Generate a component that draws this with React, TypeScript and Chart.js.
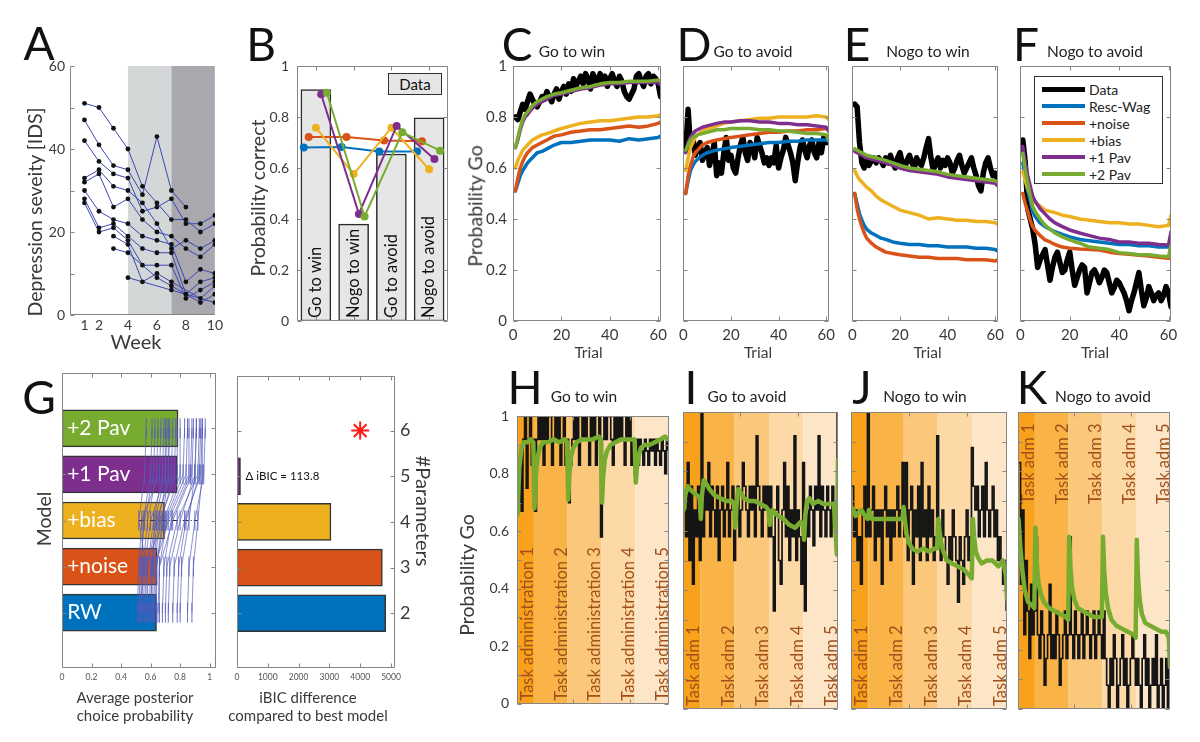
import React, { useEffect, useRef } from 'react';
import { Chart, registerables } from 'chart.js';

Chart.register(...registerables);

// ---------------- data ----------------
// Panel A: depression severity per subject, weeks 1..10
const A_WEEKS = [1, 2, 3, 4, 5, 6, 7, 8, 9, 10];
const A_SUBJECTS: (number | null)[][] = [
  [51, 50, 45, 40, 31, 27, 23, 23, 20, 22],
  [47, 41, 36, 35, 29, 43, 30, 26, null, null],
  [42, 37, 34, 33, 25, 26, 28, 22, 22, 24],
  [33, 35, 31, 30, 27, 22, 16, 18, 16, 18],
  [32, 34, 26, 28, 23, 20, 19, 16, 14, 17],
  [30, 25, 23, 22, 19, 18, 17, 8, 11, 10],
  [28, 21, 22, 19, 16, 15, 15, 5, 8, 9],
  [27, 20, 21, 18, 12, 12, 12, 4, 6, 8],
  [null, null, 19, 17, 8, 10, 8, null, 4, 7],
  [null, null, 16, 15, null, 9, 7, null, 3, 5],
  [null, null, null, 9, null, null, 6, null, null, 3],
];
const A_PHASES = [[4, 7], [7, 10]];

// Panel B: probability correct per condition
const B_COND = ['Go to win', 'Nogo to win', 'Go to avoid', 'Nogo to avoid'];
const B_DATA = [0.908, 0.38, 0.655, 0.797];
const B_RW = [0.68, 0.682, 0.665, 0.665];
const B_NOISE = [0.722, 0.722, 0.708, 0.705];
const B_BIAS = [0.758, 0.576, 0.758, 0.595];
const B_PAV1 = [0.889, 0.42, 0.765, 0.635];
const B_PAV2 = [0.895, 0.41, 0.74, 0.668];

// Panels C-F: probability Go over trials
const MX = [1, 2, 3, 4, 5, 6, 8, 10, 12, 14, 17, 20, 24, 28, 32, 36, 40, 44, 48, 52, 56, 60, 61];

const C_DATA = [0.80, 0.79, 0.82, 0.85, 0.83, 0.86, 0.89, 0.87, 0.85, 0.84,
  0.86, 0.88, 0.87, 0.90, 0.88, 0.86, 0.89, 0.91, 0.87, 0.90,
  0.92, 0.89, 0.93, 0.90, 0.95, 0.92, 0.94, 0.96, 0.93, 0.97,
  0.95, 0.91, 0.97, 0.95, 0.93, 0.97, 0.94, 0.96, 0.92, 0.95,
  0.97, 0.94, 0.92, 0.96, 0.94, 0.90, 0.88, 0.87, 0.89, 0.91,
  0.96, 0.97, 0.94, 0.92, 0.96, 0.97, 0.93, 0.96, 0.95, 0.93,
  0.88];
const C_RW = [0.51, 0.54, 0.57, 0.59, 0.605, 0.62, 0.64, 0.66, 0.665, 0.675, 0.69, 0.70, 0.70, 0.705, 0.71, 0.71, 0.71, 0.705, 0.715, 0.71, 0.715, 0.72, 0.725];
const C_NOISE = [0.51, 0.56, 0.60, 0.625, 0.645, 0.66, 0.68, 0.69, 0.70, 0.71, 0.725, 0.73, 0.74, 0.745, 0.75, 0.75, 0.755, 0.76, 0.765, 0.76, 0.765, 0.775, 0.78];
const C_BIAS = [0.60, 0.63, 0.65, 0.67, 0.68, 0.69, 0.71, 0.72, 0.73, 0.735, 0.745, 0.755, 0.765, 0.775, 0.78, 0.785, 0.785, 0.79, 0.795, 0.80, 0.80, 0.805, 0.81];
const C_PAV1 = [0.68, 0.71, 0.75, 0.78, 0.80, 0.81, 0.835, 0.85, 0.86, 0.87, 0.885, 0.89, 0.90, 0.91, 0.915, 0.925, 0.93, 0.93, 0.935, 0.935, 0.935, 0.935, 0.925];
const C_PAV2 = [0.68, 0.72, 0.76, 0.79, 0.81, 0.82, 0.845, 0.86, 0.87, 0.88, 0.89, 0.895, 0.905, 0.915, 0.92, 0.93, 0.935, 0.935, 0.94, 0.94, 0.94, 0.945, 0.94];

const D_DATA = [0.67, 0.83, 0.68, 0.72, 0.65, 0.68, 0.70, 0.63, 0.66, 0.68,
  0.61, 0.65, 0.70, 0.57, 0.62, 0.58, 0.66, 0.72, 0.63, 0.65,
  0.60, 0.58, 0.64, 0.69, 0.72, 0.66, 0.63, 0.70, 0.68, 0.64,
  0.72, 0.69, 0.66, 0.62, 0.64, 0.61, 0.64, 0.62, 0.69, 0.60,
  0.64, 0.67, 0.72, 0.69, 0.66, 0.62, 0.55, 0.62, 0.68, 0.71,
  0.67, 0.64, 0.69, 0.71, 0.66, 0.64, 0.70, 0.66, 0.72, 0.70,
  0.70];
const D_RW = [0.50, 0.55, 0.59, 0.61, 0.625, 0.635, 0.65, 0.66, 0.665, 0.67, 0.675, 0.68, 0.685, 0.69, 0.695, 0.70, 0.70, 0.705, 0.705, 0.71, 0.71, 0.71, 0.705];
const D_NOISE = [0.50, 0.57, 0.61, 0.64, 0.66, 0.67, 0.69, 0.70, 0.705, 0.71, 0.715, 0.72, 0.725, 0.73, 0.735, 0.74, 0.74, 0.745, 0.745, 0.75, 0.75, 0.755, 0.75];
const D_BIAS = [0.59, 0.64, 0.68, 0.70, 0.72, 0.73, 0.745, 0.755, 0.76, 0.765, 0.775, 0.78, 0.785, 0.79, 0.795, 0.795, 0.80, 0.80, 0.80, 0.80, 0.805, 0.80, 0.79];
const D_PAV1 = [0.66, 0.70, 0.72, 0.735, 0.745, 0.75, 0.76, 0.765, 0.77, 0.775, 0.78, 0.78, 0.785, 0.785, 0.78, 0.78, 0.775, 0.775, 0.77, 0.77, 0.765, 0.76, 0.745];
const D_PAV2 = [0.67, 0.69, 0.71, 0.72, 0.725, 0.73, 0.735, 0.74, 0.745, 0.75, 0.75, 0.755, 0.755, 0.755, 0.75, 0.75, 0.745, 0.745, 0.74, 0.735, 0.735, 0.73, 0.71];

const E_DATA = [0.85, 0.84, 0.70, 0.62, 0.60, 0.63, 0.61, 0.63, 0.64, 0.62,
  0.64, 0.63, 0.61, 0.64, 0.62, 0.65, 0.62, 0.60, 0.64, 0.66,
  0.62, 0.60, 0.63, 0.65, 0.62, 0.60, 0.64, 0.62, 0.61, 0.64,
  0.68, 0.715, 0.64, 0.59, 0.62, 0.64, 0.60, 0.63, 0.61, 0.64,
  0.62, 0.58, 0.60, 0.63, 0.65, 0.61, 0.58, 0.60, 0.62, 0.64,
  0.60, 0.57, 0.53, 0.51, 0.58, 0.62, 0.64, 0.60, 0.57, 0.58,
  0.555];
const E_RW = [0.50, 0.46, 0.42, 0.395, 0.375, 0.36, 0.345, 0.335, 0.325, 0.32, 0.31, 0.305, 0.30, 0.30, 0.295, 0.295, 0.29, 0.29, 0.29, 0.285, 0.285, 0.28, 0.275];
const E_NOISE = [0.50, 0.44, 0.40, 0.37, 0.345, 0.325, 0.305, 0.29, 0.28, 0.27, 0.265, 0.26, 0.255, 0.25, 0.25, 0.245, 0.245, 0.245, 0.24, 0.24, 0.24, 0.235, 0.24];
const E_BIAS = [0.59, 0.57, 0.555, 0.545, 0.535, 0.525, 0.51, 0.49, 0.475, 0.465, 0.45, 0.435, 0.425, 0.415, 0.40, 0.405, 0.40, 0.395, 0.395, 0.39, 0.39, 0.385, 0.38];
const E_PAV1 = [0.665, 0.66, 0.655, 0.65, 0.645, 0.64, 0.635, 0.63, 0.625, 0.62, 0.61, 0.60, 0.59, 0.585, 0.58, 0.575, 0.565, 0.56, 0.555, 0.55, 0.545, 0.54, 0.53];
const E_PAV2 = [0.675, 0.67, 0.665, 0.66, 0.655, 0.65, 0.645, 0.64, 0.635, 0.63, 0.62, 0.61, 0.60, 0.595, 0.59, 0.585, 0.575, 0.57, 0.565, 0.56, 0.555, 0.55, 0.545];

const F_DATA = [0.71, 0.62, 0.44, 0.40, 0.36, 0.30, 0.21, 0.24, 0.26, 0.28,
  0.22, 0.16, 0.21, 0.25, 0.27, 0.23, 0.19, 0.20, 0.24, 0.27,
  0.20, 0.14, 0.17, 0.20, 0.22, 0.21, 0.11, 0.15, 0.19, 0.20,
  0.18, 0.15, 0.17, 0.20, 0.19, 0.15, 0.11, 0.13, 0.16, 0.15,
  0.13, 0.11, 0.08, 0.04, 0.08, 0.11, 0.15, 0.19, 0.12, 0.06,
  0.09, 0.135, 0.11, 0.08, 0.10, 0.11, 0.08, 0.10, 0.135, 0.11,
  0.056];
const F_RW = [0.62, 0.56, 0.51, 0.47, 0.43, 0.41, 0.385, 0.37, 0.36, 0.35, 0.34, 0.33, 0.32, 0.315, 0.31, 0.305, 0.30, 0.30, 0.295, 0.295, 0.29, 0.29, 0.29];
const F_NOISE = [0.50, 0.46, 0.43, 0.395, 0.37, 0.355, 0.335, 0.318, 0.31, 0.30, 0.29, 0.285, 0.282, 0.28, 0.278, 0.27, 0.265, 0.262, 0.258, 0.255, 0.25, 0.246, 0.25];
const F_BIAS = [0.585, 0.55, 0.52, 0.495, 0.475, 0.465, 0.45, 0.435, 0.43, 0.425, 0.415, 0.41, 0.40, 0.395, 0.39, 0.385, 0.385, 0.38, 0.38, 0.375, 0.37, 0.375, 0.415];
const F_PAV1 = [0.684, 0.62, 0.57, 0.53, 0.49, 0.47, 0.44, 0.42, 0.40, 0.385, 0.37, 0.357, 0.345, 0.335, 0.325, 0.32, 0.31, 0.31, 0.305, 0.305, 0.30, 0.298, 0.35];
const F_PAV2 = [0.657, 0.59, 0.54, 0.49, 0.45, 0.43, 0.40, 0.376, 0.36, 0.345, 0.33, 0.318, 0.305, 0.29, 0.285, 0.28, 0.268, 0.265, 0.26, 0.26, 0.255, 0.252, 0.298];

const LEGEND_NAMES = ['Data', 'Resc-Wag', '+noise', '+bias', '+1 Pav', '+2 Pav'];

// Panel G: model comparison (order RW, +noise, +bias, +1 Pav, +2 Pav)
const G_MODELS = ['RW', '+noise', '+bias', '+1 Pav', '+2 Pav'];
const G_PARAMS = [2, 3, 4, 5, 6];
const G_AVG = [0.64, 0.645, 0.694, 0.78, 0.786];
const G_IBIC = [4830, 4720, 3050, 113.8, 0];
const G_BEST_MARK = 4000;
const G_RW = [0.52, 0.55, 0.58, 0.60, 0.53, 0.62, 0.66, 0.70, 0.56, 0.75, 0.80, 0.88, 0.51, 0.64,
  0.54, 0.57, 0.59, 0.61, 0.63, 0.65, 0.68, 0.72, 0.78, 0.85, 0.53, 0.60];
const G_NOISE = [0.53, 0.56, 0.58, 0.61, 0.55, 0.63, 0.66, 0.71, 0.57, 0.76, 0.81, 0.89, 0.52, 0.64,
  0.55, 0.58, 0.60, 0.62, 0.64, 0.66, 0.69, 0.73, 0.79, 0.86, 0.54, 0.61];
const G_BIAS = [0.56, 0.60, 0.64, 0.66, 0.70, 0.72, 0.75, 0.78, 0.52, 0.83, 0.86, 0.92, 0.54, 0.68,
  0.58, 0.62, 0.65, 0.67, 0.69, 0.71, 0.74, 0.80, 0.84, 0.90, 0.55, 0.63];
const G_PAV1 = [0.62, 0.70, 0.74, 0.78, 0.82, 0.86, 0.88, 0.92, 0.56, 0.94, 0.90, 0.95, 0.66, 0.72,
  0.64, 0.68, 0.72, 0.76, 0.80, 0.84, 0.87, 0.90, 0.93, 0.96, 0.60, 0.70];
const G_PAV2 = [0.63, 0.71, 0.75, 0.78, 0.83, 0.86, 0.89, 0.93, 0.57, 0.95, 0.91, 0.95, 0.67, 0.72,
  0.65, 0.69, 0.73, 0.77, 0.80, 0.85, 0.88, 0.91, 0.94, 0.97, 0.61, 0.70];

// Panels H-K: probability Go (percent) across 5 task administrations
const HK_ADM = [0, 30, 90, 150, 210, 270];
const HK_BIN = 3; // trials per plotted data sample
const HK_LONG = ['Task administration 1', 'Task administration 2', 'Task administration 3', 'Task administration 4', 'Task administration 5'];
const HK_SHORT = ['Task adm 1', 'Task adm 2', 'Task adm 3', 'Task adm 4', 'Task adm 5'];
const GX = [1, 4, 8, 12, 18, 24, 29, 31, 33, 36, 40, 46, 55, 65, 75, 85, 89, 91, 93, 96, 100, 106, 115, 125, 135, 145, 149,
  151, 153, 156, 160, 166, 175, 185, 195, 205, 209, 211, 213, 216, 220, 226, 235, 245, 255, 263, 268, 270];

const H_MODEL = [66, 82, 89, 91, 91, 92, 91, 68, 78, 85, 89, 91, 91, 92, 91, 92, 91, 71, 80, 86, 89, 91, 92, 92, 92, 93, 92,
  70, 79, 85, 88, 90, 91, 92, 92, 92, 92, 77, 82, 86, 89, 90, 90, 91, 92, 93, 92, 92];
const I_MODEL = [67, 72, 75, 74, 73, 72, 71, 64, 72, 77, 76, 74, 72, 71, 70, 70, 69, 61, 68, 74, 73, 71, 70, 70, 69, 68, 67,
  62, 65, 67, 66, 65, 64, 62, 61, 63, 62, 57, 65, 70, 71, 69, 70, 69, 69, 69, 52, 84];
const J_MODEL = [68, 67, 65, 66, 67, 65, 64, 67, 66, 64, 64, 64, 64, 64, 64, 64, 64, 68, 64, 59, 56, 54, 53, 54, 53, 54, 54,
  64, 60, 56, 53, 50, 49, 48, 47, 45, 44, 64, 58, 53, 51, 49, 50, 50, 48, 50, 45, 37];
const K_MODEL = [64, 55, 46, 40, 36, 35, 34, 61, 50, 43, 39, 36, 34, 33, 32, 31, 30, 58, 48, 41, 37, 34, 33, 32, 31, 31, 31,
  58, 47, 39, 34, 30, 28, 27, 26, 25, 24, 57, 45, 37, 32, 29, 28, 27, 26, 26, 24, 14];

const H_DATA = [70, 83, 67, 92, 100, 75, 92, 100, 83, 92,
  67, 92, 100, 92, 100, 83, 100, 92, 100, 100, 83, 92, 100, 92, 100, 83, 92, 100, 83, 92,
  70, 83, 92, 100, 92, 100, 83, 92, 100, 92, 100, 92, 83, 100, 92, 100, 83, 92, 100, 58,
  92, 100, 92, 100, 100, 92, 83, 100, 92, 100, 92, 100, 92, 83, 100, 92, 100, 83, 92, 80,
  92, 83, 92, 88, 83, 92, 88, 83, 92, 88, 92, 83, 92, 88, 83, 92, 88, 80, 92, 88];
const I_DATA = [67, 58, 83, 50, 75, 42, 67, 58, 75, 50,
  100, 58, 75, 67, 83, 58, 75, 67, 58, 75, 50, 67, 75, 58, 67, 83, 58, 67, 75, 50,
  67, 75, 58, 67, 83, 75, 67, 58, 75, 67, 75, 58, 92, 75, 67, 58, 75, 67, 75, 58,
  75, 58, 33, 67, 75, 50, 42, 67, 83, 58, 75, 50, 67, 58, 92, 50, 67, 58, 42, 83,
  33, 67, 58, 75, 67, 55, 75, 67, 92, 58, 75, 67, 58, 75, 67, 58, 75, 67, 58, 100];
const J_DATA = [75, 58, 67, 50, 58, 42, 67, 75, 58, 100,
  58, 67, 75, 50, 67, 58, 67, 42, 67, 75, 58, 67, 50, 67, 58, 67, 75, 58, 67, 83,
  58, 83, 50, 67, 75, 42, 67, 58, 75, 50, 83, 58, 67, 50, 75, 58, 67, 50, 58, 92,
  58, 50, 67, 58, 50, 42, 58, 50, 67, 58, 50, 36, 58, 50, 42, 58, 67, 50, 58, 88,
  75, 67, 75, 58, 67, 75, 58, 83, 67, 58, 67, 75, 58, 67, 50, 58, 50, 42, 50, 33];
const K_DATA = [83, 42, 67, 25, 50, 33, 17, 42, 25, 33,
  58, 25, 17, 33, 25, 8, 17, 25, 42, 17, 25, 17, 33, 25, 8, 17, 25, 33, 17, 25,
  58, 25, 17, 33, 25, 17, 25, 33, 17, 25, 33, 25, 17, 25, 33, 17, 25, 33, 25, 17,
  33, 17, 8, 0, 17, 8, 25, 17, 0, 8, 17, 25, 8, 17, 0, 8, 17, 25, 17, 8,
  17, 8, 0, 17, 25, 8, 17, 0, 8, 17, 8, 25, 0, 8, 17, 0, 8, 17, 0, 17];

// ---------------- styles ----------------
const FONT = 'Lato, "Open Sans", "DejaVu Sans", sans-serif';
const TXT = '#3a3a3a';
const AX = '#858585';
const C_BLU = '#0072BD';
const C_RED = '#D95319';
const C_YEL = '#EDB120';
const C_PUR = '#7E2F8E';
const C_GRN = '#77AC30';
const MODEL_COLORS = [C_BLU, C_RED, C_YEL, C_PUR, C_GRN];
const LEGEND_COLORS = ['#000', C_BLU, C_RED, C_YEL, C_PUR, C_GRN];
const BAND_COLORS = ['#f7a11d', '#f9b346', '#fbc87b', '#fcd9a7', '#fde6c8'];
const ADM_TXT = '#a0501c';
const SCRIB = 'rgba(84,90,186,0.85)';

Chart.defaults.font.family = FONT;

// ---------------- plugins ----------------
function drawTexts(chart: any, list: any[]) {
  const { ctx } = chart;
  for (const t of list) {
    const xs = chart.scales[t.xId || 'x'];
    const ys = chart.scales[t.yId || 'y'];
    const x = xs.getPixelForValue(t.x) + (t.dx || 0);
    const y = ys.getPixelForValue(t.y) + (t.dy || 0);
    ctx.save();
    ctx.translate(x, y);
    if (t.rot) ctx.rotate(t.rot);
    ctx.font = t.font;
    ctx.fillStyle = t.color || TXT;
    ctx.textAlign = t.align || 'left';
    ctx.textBaseline = t.base || 'middle';
    ctx.fillText(t.text, 0, 0);
    ctx.restore();
  }
}

const bandsPlugin = {
  id: 'bands',
  beforeDatasetsDraw(chart: any, _a: any, o: any) {
    if (!o || !o.list) return;
    const { ctx, chartArea: a } = chart;
    const xs = chart.scales.x;
    ctx.save();
    for (const b of o.list) {
      const x0 = xs.getPixelForValue(b[0]);
      const x1 = xs.getPixelForValue(b[1]);
      ctx.fillStyle = b[2];
      ctx.fillRect(x0, a.top, x1 - x0, a.height);
    }
    ctx.restore();
  },
};

const textPlugin = {
  id: 'texts',
  beforeDatasetsDraw(chart: any, _a: any, o: any) {
    if (o && o.under) drawTexts(chart, o.under);
  },
  afterDatasetDraw(chart: any, args: any, o: any) {
    if (o && o.at && o.atIndex === args.index) drawTexts(chart, o.at);
  },
  afterDatasetsDraw(chart: any, _a: any, o: any) {
    if (o && o.over) drawTexts(chart, o.over);
  },
};

const boxPlugin = {
  id: 'mbox',
  afterDatasetsDraw(chart: any, _a: any, o: any) {
    if (!o || !o.on) return;
    const { ctx, chartArea: a } = chart;
    const xs = chart.scales[o.xId || 'x'];
    const ys = chart.scales[o.yId || 'y'];
    const L = o.len ?? 4;
    const box = o.box !== false;
    const l = Math.round(a.left) + 0.5;
    const r = Math.round(a.right) - 0.5;
    const t = Math.round(a.top) + 0.5;
    const b = Math.round(a.bottom) - 0.5;
    ctx.save();
    ctx.strokeStyle = AX;
    ctx.lineWidth = 1;
    ctx.beginPath();
    for (const v of o.xt || []) {
      const x = Math.round(xs.getPixelForValue(v)) + 0.5;
      ctx.moveTo(x, b); ctx.lineTo(x, b - L);
      if (box) { ctx.moveTo(x, t); ctx.lineTo(x, t + L); }
    }
    for (const v of o.yt || []) {
      const y = Math.round(ys.getPixelForValue(v)) + 0.5;
      ctx.moveTo(l, y); ctx.lineTo(l + L, y);
      if (box) { ctx.moveTo(r, y); ctx.lineTo(r - L, y); }
    }
    ctx.moveTo(l, t); ctx.lineTo(l, b); ctx.lineTo(r, b);
    if (box) { ctx.lineTo(r, t); ctx.lineTo(l, t); }
    ctx.stroke();
    ctx.restore();
  },
};

Chart.register(bandsPlugin, textPlugin, boxPlugin);

// ---------------- helpers ----------------
type R = { x: number; y: number; w: number; h: number };
type P = { l: number; t: number; r: number; b: number };

function geom(cv: R, pl: P, rightAxis = false) {
  return {
    padding: { left: 0, top: pl.t - cv.y, right: rightAxis ? 0 : cv.x + cv.w - pl.r, bottom: 0 },
    xFit: (s: any) => { s.height = cv.y + cv.h - pl.b; },
    yFit: (s: any) => { s.width = pl.l - cv.x; },
    y2Fit: (s: any) => { s.width = cv.x + cv.w - pl.r; },
  };
}

const plainNum = (v: any) => String(parseFloat(Number(v).toFixed(4)));

function scale(min: number, max: number, fit: any, o: any = {}) {
  const ticks: any = {
    display: o.labels !== false,
    color: o.color || TXT,
    font: { family: FONT, size: o.fs || 14 },
    padding: o.pad ?? 5,
    autoSkip: false,
    maxRotation: 0,
    minRotation: 0,
    callback: o.cb || plainNum,
  };
  if (o.step) ticks.stepSize = o.step;
  const s: any = {
    type: 'linear', min, max, offset: false,
    grid: { display: false, drawTicks: false, tickLength: 0 }, border: { display: false },
    ticks, afterFit: fit,
  };
  if (o.position) s.position = o.position;
  if (o.tv) s.afterBuildTicks = (sc: any) => { sc.ticks = o.tv.map((v: number) => ({ value: v })); };
  return s;
}

function opts(g: any, scales: any, plugins: any, extra: any = {}) {
  return {
    responsive: false, animation: false, devicePixelRatio: 1, events: [],
    layout: { padding: g.padding },
    plugins: { legend: { display: false }, tooltip: { enabled: false }, title: { display: false }, ...plugins },
    scales, ...extra,
  };
}

const lineDs = (data: any[], color: string, width: number, extra: any = {}) => ({
  type: 'line', data, borderColor: color, backgroundColor: color, borderWidth: width,
  pointRadius: 0, tension: 0, fill: false, borderJoinStyle: 'round', borderCapStyle: 'round', spanGaps: true, ...extra,
});
const xy = (xs: number[], ys: (number | null)[]) => ys.map((v, i) => ({ x: xs[i], y: v }));

// ---------------- chart configs ----------------
function chartA() {
  const cv = { x: 0, y: 36, w: 225, h: 330 }, pl = { l: 70, t: 66, r: 215, b: 315 };
  const g = geom(cv, pl);
  const datasets = A_SUBJECTS.map((s) => lineDs(xy(A_WEEKS, s), '#3a48b4', 1, {
    pointRadius: 2.4, pointBackgroundColor: '#111', pointBorderWidth: 0, borderJoinStyle: 'miter',
  }));
  return {
    type: 'line', data: { datasets },
    options: opts(g, {
      x: scale(0, 10, g.xFit, { tv: [1, 2, 4, 6, 8, 10], fs: 14, pad: 2 }),
      y: scale(0, 60, g.yFit, { step: 20, fs: 14, pad: 5 }),
    }, {
      bands: { list: [[A_PHASES[0][0], A_PHASES[0][1], '#d4d7d8'], [A_PHASES[1][0], A_PHASES[1][1], '#a9a8ae']] },
      mbox: { on: true, box: false, xt: [], yt: [0, 10, 20, 30, 40, 50, 60] },
    }),
  };
}

function chartB() {
  const cv = { x: 232, y: 36, w: 226, h: 330 }, pl = { l: 297, t: 66, r: 448, b: 321 };
  const g = geom(cv, pl);
  const offs = [-0.32, -0.19, 0, 0.14, 0.29];
  const series = [B_RW, B_NOISE, B_BIAS, B_PAV1, B_PAV2];
  const lines = series.map((s, k) => lineDs(s.map((v, i) => ({ x: i + 1 + offs[k], y: v })), MODEL_COLORS[k], 2, {
    pointRadius: 4, pointBackgroundColor: MODEL_COLORS[k], pointBorderWidth: 0, borderJoinStyle: 'miter',
  })).reverse();
  const bars = {
    type: 'bar', data: B_DATA.map((v, i) => ({ x: i + 1, y: v })),
    backgroundColor: '#e6e6e6', borderColor: '#2a2a2a', borderWidth: 1.5, barThickness: 30, borderSkipped: false,
  };
  const datasets = [...lines, bars];
  return {
    type: 'bar', data: { datasets },
    options: opts(g, {
      x: scale(0.5, 4.5, g.xFit, { labels: false }),
      y: scale(0, 1, g.yFit, { step: 0.2, fs: 14, pad: 8 }),
    }, {
      texts: {
        atIndex: datasets.length - 1,
        at: B_COND.map((c, i) => ({ x: i + 1, y: 0.012, text: c, rot: -Math.PI / 2, align: 'left', base: 'middle', font: `16.5px ${FONT}`, color: '#111' })),
      },
      mbox: { on: true, xt: [1, 2, 3, 4], yt: [0, 0.2, 0.4, 0.6, 0.8, 1] },
    }),
  };
}

function chartTrial(cv: R, pl: P, s: any, showY: boolean) {
  const g = geom(cv, pl);
  const datasets = [
    lineDs(xy(MX, s.pav2), C_GRN, 3.5),
    lineDs(xy(MX, s.pav1), C_PUR, 3.5),
    lineDs(xy(MX, s.bias), C_YEL, 3.5),
    lineDs(xy(MX, s.noise), C_RED, 3.5),
    lineDs(xy(MX, s.rw), C_BLU, 3.5),
    lineDs(s.data.map((v: number, i: number) => ({ x: i + 1, y: v })), '#000', 5.5),
  ];
  return {
    type: 'line', data: { datasets },
    options: opts(g, {
      x: scale(0, 61, g.xFit, { tv: [0, 20, 40, 60], fs: 15, pad: 5 }),
      y: scale(0, 1, g.yFit, { step: 0.2, labels: showY, fs: 15, pad: 6 }),
    }, {
      mbox: { on: true, xt: [0, 20, 40, 60], yt: [0, 0.2, 0.4, 0.6, 0.8, 1] },
    }),
  };
}

function chartG1() {
  const cv = { x: 20, y: 360, w: 207, h: 330 }, pl = { l: 62, t: 373, r: 223, b: 668 };
  const g = geom(cv, pl);
  const subj = G_RW.map((_, s) => lineDs(
    [G_RW[s], G_NOISE[s], G_BIAS[s], G_PAV1[s], G_PAV2[s]].map((v, k) => ({ x: v, y: G_PARAMS[k] })),
    SCRIB, 0.8, { pointStyle: 'line', pointRadius: 10, pointRotation: 90, pointBorderWidth: 1, pointBorderColor: SCRIB, borderJoinStyle: 'miter' }));
  const dash = lineDs([{ x: Math.min(...G_BIAS), y: G_PARAMS[2] }, { x: Math.max(...G_BIAS), y: G_PARAMS[2] }], '#222', 1.2, { borderDash: [6, 2, 1, 2], borderCapStyle: 'butt' });
  const bars = {
    type: 'bar', data: G_AVG.map((v, i) => ({ x: v, y: G_PARAMS[i] })),
    backgroundColor: MODEL_COLORS, borderColor: '#333', borderWidth: 1.5, barThickness: 37, borderSkipped: false,
  };
  const datasets = [...subj, dash, bars];
  return {
    type: 'bar', data: { datasets },
    options: opts(g, {
      x: scale(0, 1.043, g.xFit, { tv: [0, 0.2, 0.4, 0.6, 0.8, 1], fs: 8.5, pad: 4, color: '#555' }),
      y: scale(0.8, 7.2, g.yFit, { labels: false }),
    }, {
      texts: {
        atIndex: datasets.length - 1,
        at: G_MODELS.map((m, i) => ({ x: 0.035, y: G_PARAMS[i], text: m, align: 'left', base: 'middle', font: `21px ${FONT}`, color: '#fff' })),
      },
      mbox: { on: true, xt: [0, 0.2, 0.4, 0.6, 0.8, 1], yt: G_PARAMS },
    }, { indexAxis: 'y' }),
  };
}

function chartG2() {
  const cv = { x: 226, y: 360, w: 204, h: 330 }, pl = { l: 233, t: 373, r: 395, b: 668 };
  const g = geom(cv, pl, true);
  const star = lineDs([{ x: G_BEST_MARK, y: G_PARAMS[4] }], '#ff1a1a', 2, {
    showLine: false, pointStyle: 'star', pointRadius: 9, pointBorderWidth: 2, pointBorderColor: '#ff1a1a',
  });
  const bars = {
    type: 'bar', data: G_IBIC.map((v, i) => ({ x: v, y: G_PARAMS[i] })),
    backgroundColor: MODEL_COLORS, borderColor: '#333', borderWidth: 1.5, barThickness: 37, borderSkipped: false,
  };
  return {
    type: 'bar', data: { datasets: [star, bars] },
    options: opts(g, {
      x: scale(0, 5130, g.xFit, { tv: [0, 1000, 2000, 3000, 4000, 5000], fs: 8.5, pad: 4, color: '#555' }),
      y: scale(0.8, 7.2, g.yFit, { labels: false }),
      y2: scale(0.8, 7.2, g.y2Fit, { position: 'right', tv: G_PARAMS, fs: 18, pad: 5 }),
    }, {
      texts: {
        over: [{ x: 280, y: G_PARAMS[3], text: `\u0394 iBIC = ${G_IBIC[3]}`, align: 'left', base: 'middle', font: `11.5px ${FONT}`, color: '#111' }],
      },
      mbox: { on: true, xt: [0, 1000, 2000, 3000, 4000, 5000], yt: G_PARAMS },
    }, { indexAxis: 'y' }),
  };
}

function chartHK(cv: R, pl: P, data: number[], model: number[], showY: boolean, labels: string[], labelY: number) {
  const g = geom(cv, pl);
  const datasets = [
    lineDs(xy(GX, model), C_GRN, 4.5),
    lineDs(data.map((v, i) => ({ x: (i + 0.5) * HK_BIN, y: v })), '#151515', 1.7, { stepped: true, borderJoinStyle: 'miter', borderCapStyle: 'butt' }),
  ];
  const bands = BAND_COLORS.map((c, i) => [HK_ADM[i], HK_ADM[i + 1], c]);
  const texts = labels.map((t, i) => ({
    x: HK_ADM[i + 1], y: labelY, dx: -1, text: t, rot: -Math.PI / 2, align: 'left', base: 'alphabetic', font: `16.5px ${FONT}`, color: ADM_TXT,
  }));
  return {
    type: 'line', data: { datasets },
    options: opts(g, {
      x: scale(0, 270, g.xFit, { labels: false }),
      y: scale(0, 100, g.yFit, { step: 20, labels: showY, fs: 14, pad: 8, cb: (v: number) => String(v / 100) }),
    }, {
      bands: { list: bands },
      texts: { under: texts },
      mbox: { on: true, xt: [100, 200], yt: [0, 10, 20, 30, 40, 50, 60, 70, 80, 90, 100] },
    }),
  };
}

// ---------------- components ----------------
function ChartBox({ r, make }: { r: R; make: () => any }) {
  const ref = useRef<HTMLCanvasElement>(null);
  useEffect(() => {
    const ch = new Chart(ref.current as HTMLCanvasElement, make());
    return () => ch.destroy();
  }, []);
  return <canvas ref={ref} width={r.w} height={r.h} style={{ position: 'absolute', left: r.x, top: r.y, width: r.w, height: r.h }} />;
}

function Txt({ x, y, size, rot = 0, color = TXT, children, lh }: any) {
  return (
    <div style={{
      position: 'absolute', left: x, top: y, transform: `translate(-50%, -50%) rotate(${rot}deg)`,
      fontFamily: FONT, fontSize: size, color, whiteSpace: 'pre', lineHeight: lh ? `${lh}px` : 1, textAlign: 'center',
    }}>{children}</div>
  );
}

const CV_C = { x: 470, y: 36, w: 202, h: 330 }, PL_C = { l: 513, t: 66, r: 664, b: 321 };
const CV_D = { x: 674, y: 36, w: 166, h: 330 }, PL_D = { l: 683, t: 66, r: 833, b: 321 };
const CV_E = { x: 843, y: 36, w: 166, h: 330 }, PL_E = { l: 852, t: 66, r: 1003, b: 321 };
const CV_F = { x: 1011, y: 36, w: 172, h: 330 }, PL_F = { l: 1019, t: 66, r: 1171, b: 321 };
const CV_H = { x: 470, y: 400, w: 205, h: 320 }, PL_H = { l: 517, t: 412, r: 669, b: 709 };
const CV_I = { x: 677, y: 400, w: 166, h: 320 }, PL_I = { l: 683, t: 412, r: 838, b: 709 };
const CV_J = { x: 845, y: 400, w: 166, h: 320 }, PL_J = { l: 851, t: 412, r: 1007, b: 709 };
const CV_K = { x: 1012, y: 400, w: 165, h: 320 }, PL_K = { l: 1018, t: 412, r: 1170, b: 709 };

export default function App() {
  const letters: [string, number, number][] = [
    ['A', 39, 43], ['B', 261, 44], ['C', 517, 44], ['D', 694, 44], ['E', 857, 44], ['F', 1026, 44],
    ['G', 39, 397], ['H', 525, 387], ['I', 691, 387], ['J', 862, 387], ['K', 1032, 387],
  ];
  const titles: [string, number, number][] = [
    ['Go to win', 572, 52], ['Go to avoid', 753, 52], ['Nogo to win', 928, 52], ['Nogo to avoid', 1095, 52],
    ['Go to win', 584, 397], ['Go to avoid', 747, 397], ['Nogo to win', 925, 397], ['Nogo to avoid', 1103, 397],
  ];
  return (
    <div style={{ position: 'absolute', left: 0, top: 0, width: 1200, height: 742, background: '#fff', overflow: 'hidden' }}>
      <ChartBox r={{ x: 0, y: 36, w: 225, h: 330 }} make={chartA} />
      <ChartBox r={{ x: 232, y: 36, w: 226, h: 330 }} make={chartB} />
      <ChartBox r={CV_C} make={() => chartTrial(CV_C, PL_C, { data: C_DATA, rw: C_RW, noise: C_NOISE, bias: C_BIAS, pav1: C_PAV1, pav2: C_PAV2 }, true)} />
      <ChartBox r={CV_D} make={() => chartTrial(CV_D, PL_D, { data: D_DATA, rw: D_RW, noise: D_NOISE, bias: D_BIAS, pav1: D_PAV1, pav2: D_PAV2 }, false)} />
      <ChartBox r={CV_E} make={() => chartTrial(CV_E, PL_E, { data: E_DATA, rw: E_RW, noise: E_NOISE, bias: E_BIAS, pav1: E_PAV1, pav2: E_PAV2 }, false)} />
      <ChartBox r={CV_F} make={() => chartTrial(CV_F, PL_F, { data: F_DATA, rw: F_RW, noise: F_NOISE, bias: F_BIAS, pav1: F_PAV1, pav2: F_PAV2 }, false)} />
      <ChartBox r={{ x: 20, y: 360, w: 207, h: 330 }} make={chartG1} />
      <ChartBox r={{ x: 226, y: 360, w: 204, h: 330 }} make={chartG2} />
      <ChartBox r={CV_H} make={() => chartHK(CV_H, PL_H, H_DATA, H_MODEL, true, HK_LONG, 1)} />
      <ChartBox r={CV_I} make={() => chartHK(CV_I, PL_I, I_DATA, I_MODEL, false, HK_SHORT, 1)} />
      <ChartBox r={CV_J} make={() => chartHK(CV_J, PL_J, J_DATA, J_MODEL, false, HK_SHORT, 1)} />
      <ChartBox r={CV_K} make={() => chartHK(CV_K, PL_K, K_DATA, K_MODEL, false, HK_SHORT, 69)} />

      {letters.map(([t, x, y]) => <Txt key={t} x={x} y={y} size={46} color="#111">{t}</Txt>)}
      {titles.map(([t, x, y], i) => <Txt key={'t' + i} x={x} y={y} size={15.5} color="#222">{t}</Txt>)}

      <Txt x={35} y={212} size={19.5} rot={-90}>Depression seveity [IDS]</Txt>
      <Txt x={136} y={341} size={20}>Week</Txt>
      <Txt x={258} y={198} size={19.5} rot={-90}>Probability correct</Txt>
      <Txt x={475} y={206} size={19.5} rot={-90}>Probability Go</Txt>
      <Txt x={(PL_C.l + PL_C.r) / 2} y={353} size={15.5}>Trial</Txt>
      <Txt x={(PL_D.l + PL_D.r) / 2} y={353} size={15.5}>Trial</Txt>
      <Txt x={(PL_E.l + PL_E.r) / 2} y={353} size={15.5}>Trial</Txt>
      <Txt x={(PL_F.l + PL_F.r) / 2} y={353} size={15.5}>Trial</Txt>
      <Txt x={44} y={519} size={19.5} rot={-90}>Model</Txt>
      <Txt x={135} y={706} size={15} lh={18}>{'Average posterior\nchoice probability'}</Txt>
      <Txt x={308} y={706} size={15} lh={18}>{'iBIC difference\ncompared to best model'}</Txt>
      <Txt x={424} y={511} size={20} rot={90}>#Parameters</Txt>
      <Txt x={467} y={575} size={19.5} rot={-90}>Probability Go</Txt>

      <div style={{
        position: 'absolute', left: 388, top: 73, width: 54, height: 22, boxSizing: 'border-box', background: '#e6e6e6',
        border: '1px solid #333', fontFamily: FONT, fontSize: 15, color: '#111', display: 'flex', alignItems: 'center', justifyContent: 'center',
      }}>Data</div>

      <div style={{ position: 'absolute', left: 1034, top: 76, width: 129, height: 108, boxSizing: 'border-box', border: '1px solid #333', background: '#fff' }}>
        {LEGEND_NAMES.map((n, i) => (
          <div key={n} style={{ position: 'absolute', left: 7, top: 3.5 + i * 17, height: 17, display: 'flex', alignItems: 'center' }}>
            <div style={{ width: 43, height: i === 0 ? 5 : 4, background: LEGEND_COLORS[i] }} />
            <span style={{ marginLeft: 4, fontFamily: FONT, fontSize: 14, color: '#222', whiteSpace: 'nowrap' }}>{n}</span>
          </div>
        ))}
      </div>
    </div>
  );
}
